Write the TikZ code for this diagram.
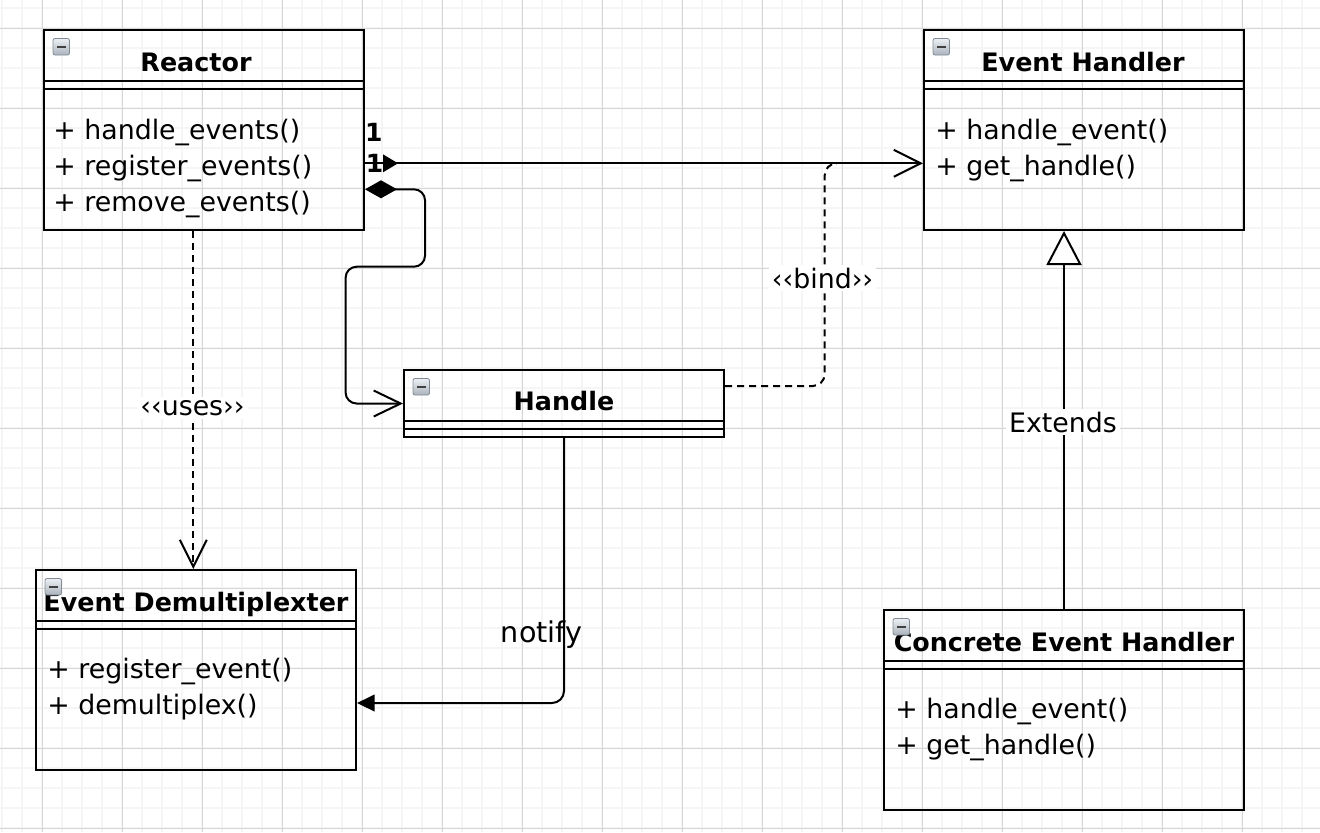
\documentclass[tikz,border=0pt]{standalone}
\usepackage{fontspec}
\setmainfont{DejaVu Sans}
\usetikzlibrary{arrows.meta,calc}
\definecolor{gminor}{RGB}{245,245,245}
\definecolor{gmajor}{RGB}{214,214,214}
\definecolor{iconedge}{RGB}{130,140,150}
\definecolor{icontop}{RGB}{236,240,244}
\definecolor{iconbot}{RGB}{170,178,188}
\tikzset{
  gridminor/.style={gminor, line width=1pt},
  gridmajor/.style={gmajor, line width=0.5pt},
  classbox/.style={draw, line width=1pt, inner sep=0pt, anchor=north west},
  classtitle/.style={anchor=base, inner sep=0pt, font=\bfseries\fontsize{12.7}{15}\selectfont},
  attr/.style={anchor=base west, inner sep=0pt, font=\fontsize{13.4}{16}\selectfont},
  lbl/.style={fill=white, inner sep=1.5pt, font=\fontsize{13.4}{16}\selectfont},
  plainlbl/.style={anchor=base, inner sep=0pt, font=\fontsize{14.3}{16}\selectfont},
  mult/.style={anchor=base, inner sep=0pt, font=\bfseries\fontsize{12.5}{15}\selectfont},
  conn/.style={line width=1pt},
  dashconn/.style={line width=1pt, dash pattern=on 3.5pt off 2.5pt},
  openarrow/.style={-{Straight Barb[length=13.5pt,width=13.5pt]}},
  collapseicon/.pic={
    \shade[top color=icontop, bottom color=iconbot, draw=iconedge, line width=0.4pt, rounded corners=1pt] (0,0) rectangle (16.5,16.5);
    \fill[black!75] (3.5,7.2) rectangle (13,9.8);
  }
}
\begin{document}
\begin{tikzpicture}[x=0.5pt,y=-0.5pt]
\useasboundingbox (0,0) rectangle (1320,832);
\fill[white] (0,0) rectangle (1320,832);
% grid
\foreach \i in {0,...,65} \draw[gridminor] ({2.3+20*\i},0) -- ({2.3+20*\i},832);
\foreach \j in {0,...,41} \draw[gridminor] (0,{8.3+20*\j}) -- (1320,{8.3+20*\j});
\foreach \i in {0,...,16} \draw[gridmajor] ({42.3+80*\i},0) -- ({42.3+80*\i},832);
\foreach \j in {0,...,10} \draw[gridmajor] (0,{28.3+80*\j}) -- (1320,{28.3+80*\j});

% class boxes
\node[classbox, minimum width=160pt, minimum height=100pt] (reactor) at (43,29) {};
\node[classbox, minimum width=160pt, minimum height=100pt] (eh) at (923,29) {};
\node[classbox, minimum width=160pt, minimum height=33.5pt] (handle) at (403,369) {};
\node[classbox, minimum width=160pt, minimum height=100pt] (demux) at (35,569) {};
\node[classbox, minimum width=180pt, minimum height=100pt] (concrete) at (883,609) {};

% compartment lines
\foreach \b in {reactor,eh,handle,demux,concrete}{
  \draw[conn] ($(\b.north west)+(0,52)$) -- ($(\b.north east)+(0,52)$);
  \draw[conn] ($(\b.north west)+(0,60)$) -- ($(\b.north east)+(0,60)$);
}

% titles
\node[classtitle] (reactorT) at ($(reactor.north west)+(153,42)$) {Reactor};
\node[classtitle] (ehT) at ($(eh.north)+(-1,42)$) {Event Handler};
\node[classtitle] (handleT) at ($(handle.north)+(0,41)$) {Handle};
\node[classtitle] (demuxT) at ($(demux.north)+(0,42.5)$) {Event Demultiplexter};
\node[classtitle] (concreteT) at ($(concrete.north)+(0,42)$) {Concrete Event Handler};

% attributes
\node[attr] (r1) at ($(reactor.north west)+(10,110)$) {+ handle\_events()};
\node[attr] (r2) at ($(reactor.north west)+(10,146)$) {+ register\_events()};
\node[attr] (r3) at ($(reactor.north west)+(10,182)$) {+ remove\_events()};
\node[attr] (e1) at ($(eh.north west)+(12,110)$) {+ handle\_event()};
\node[attr] (e2) at ($(eh.north west)+(12,146)$) {+ get\_handle()};
\node[attr] (d1) at ($(demux.north west)+(12,109)$) {+ register\_event()};
\node[attr] (d2) at ($(demux.north west)+(12,145)$) {+ demultiplex()};
\node[attr] (c1) at ($(concrete.north west)+(12,109)$) {+ handle\_event()};
\node[attr] (c2) at ($(concrete.north west)+(12,145)$) {+ get\_handle()};

% collapse icons
\foreach \b in {reactor,eh,handle,demux,concrete}{
  \pic at ($(\b.north west)+(10,9.5)$) {collapseicon};
}

% association Reactor -> Event Handler
\draw[conn, openarrow] ($(reactor.north east)+(0,134.3)$) -- ($(eh.north west)+(0,134.3)$);
\coordinate (bindend) at ($(eh.north west)+(-87,134.3)$);
\fill ($(reactor.north east)+(18,125.3)$) -- ++(15,9) -- ++(-15,9) -- cycle;
\node[mult] (m1) at ($(reactor.north east)+(8.7,112.7)$) {1};
\node[mult] (m2) at ($(reactor.north east)+(9.5,143.5)$) {1};

% composition Reactor -> Handle
\draw[conn, {Diamond[length=16pt,width=9pt]}-{Straight Barb[length=13.5pt,width=13pt]}, rounded corners=5.5pt]
  ($(reactor.north east)+(0,160.3)$) -- ++(60,0) -- ++(0,77.4) -- ++(-79.4,0) |- (handle.west);

% uses
\draw[dashconn, openarrow] ($(reactor.south west)+(150.3,0)$) -- ($(demux.north west)+(158.3,0)$);
\node[lbl] (usesL) at (192.5,408) {‹‹uses››};

% bind
\draw[dashconn, rounded corners=6pt] ($(handle.north east)+(0,17)$) -- ++(99.7,0) |- (bindend);
\node[lbl] (bindL) at (822.5,278) {‹‹bind››};

% notify
\draw[conn, -{Triangle[length=8.8pt,width=8.3pt]}, rounded corners=6pt] (handle.south) |- ($(demux.north east)+(0,134)$);
\node[plainlbl] (notifyL) at (541.5,642.7) {notify};

% extends
\draw[conn, -{Triangle[open, length=17pt, width=17.5pt, fill=white]}] (concrete.north) -- (concrete.north |- eh.south);
\node[lbl] (extL) at (1063,422) {Extends};
\end{tikzpicture}
\end{document}
